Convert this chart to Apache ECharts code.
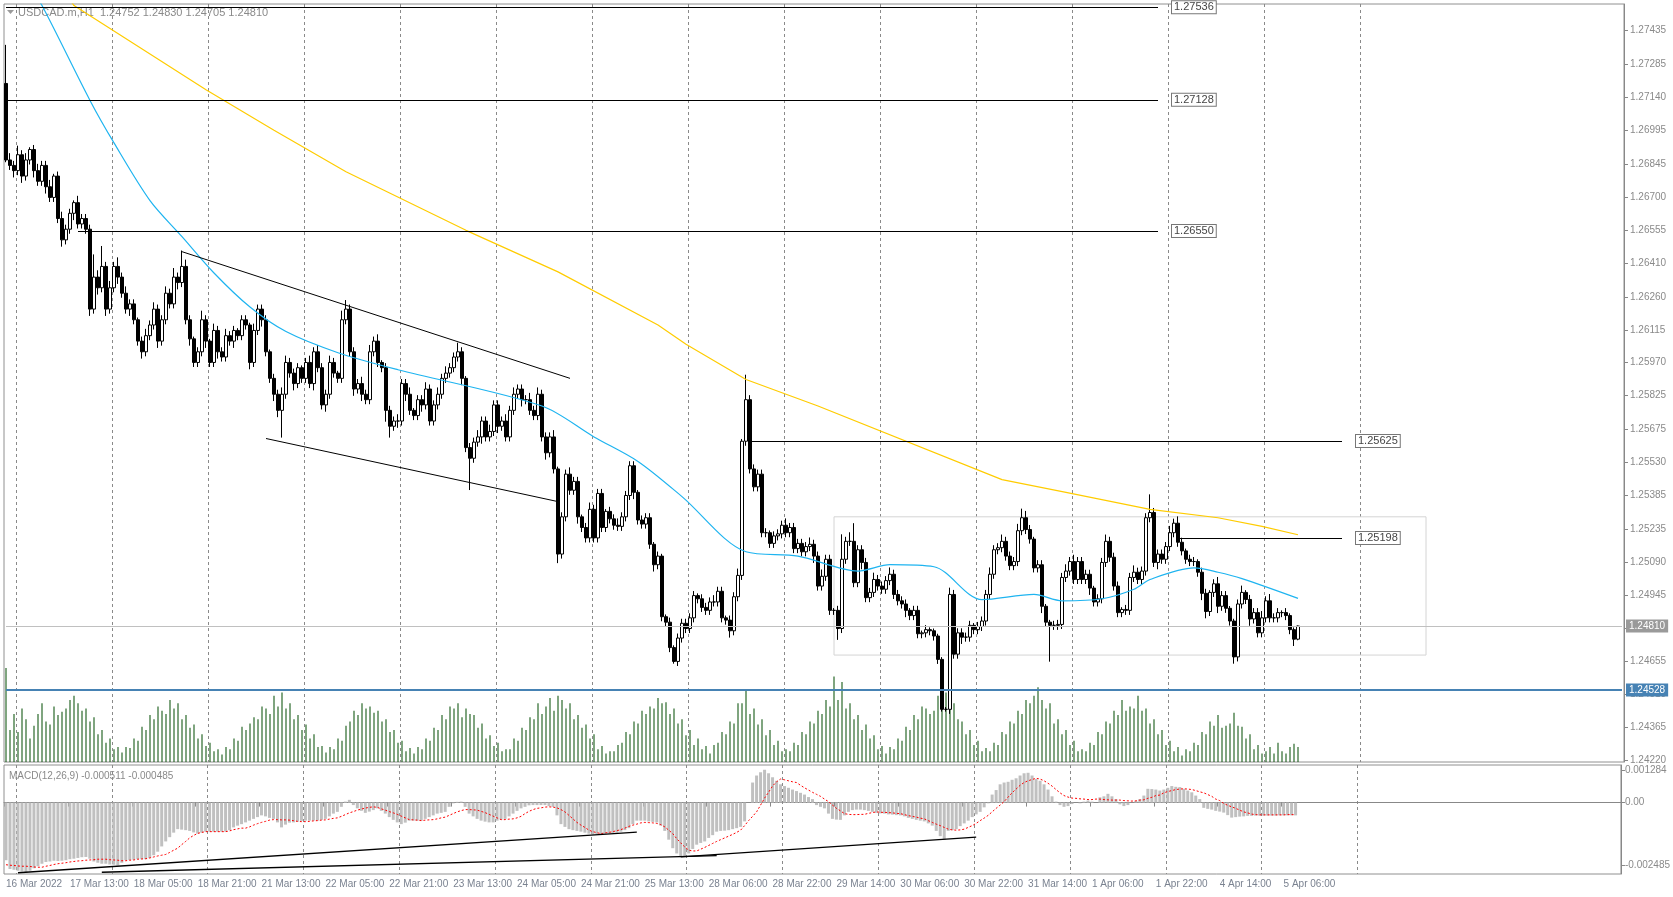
<!DOCTYPE html>
<html><head><meta charset="utf-8">
<script src="https://cdn.jsdelivr.net/npm/echarts@6/dist/echarts.min.js"></script>
<style>html,body{margin:0;padding:0;background:#fff}#c{width:1673px;height:897px}</style>
</head><body><div id="c"></div>
<script>
const tickLabels = ["16 Mar 2022","17 Mar 13:00","18 Mar 05:00","18 Mar 21:00","21 Mar 13:00","22 Mar 05:00","22 Mar 21:00","23 Mar 13:00","24 Mar 05:00","24 Mar 21:00","25 Mar 13:00","28 Mar 06:00","28 Mar 22:00","29 Mar 14:00","30 Mar 06:00","30 Mar 22:00","31 Mar 14:00","1 Apr 06:00","1 Apr 22:00","4 Apr 14:00","5 Apr 06:00"];
const priceTicks = [1.27435,1.27285,1.27140,1.26995,1.26845,1.26700,1.26555,1.26410,1.26260,1.26115,1.25970,1.25825,1.25675,1.25530,1.25385,1.25235,1.25090,1.24945,1.24800,1.24655,1.24510,1.24365,1.24220];
const firstOpen = 1.27200;
const closes = [
1.26863,1.26839,1.26816,1.26886,1.26792,1.26863,1.26909,1.26816,1.26769,1.26839,
1.26745,1.26698,1.26792,1.26605,1.26511,1.26558,1.26628,1.26675,1.26581,1.26605,
1.26558,1.26206,1.26347,1.26300,1.26394,1.26206,1.26300,1.26394,1.26347,1.26276,
1.26206,1.26229,1.26159,1.26065,1.26018,1.26089,1.26136,1.26206,1.26065,1.26159,
1.26276,1.26229,1.26347,1.26323,1.26394,1.26159,1.26075,1.25971,1.26018,1.26159,
1.26065,1.25971,1.26112,1.26018,1.25995,1.26089,1.26065,1.26112,1.26089,1.26159,
1.26136,1.25971,1.26112,1.26206,1.26159,1.26018,1.25901,1.25831,1.25760,1.25831,
1.25971,1.25924,1.25878,1.25948,1.25901,1.25971,1.25878,1.26018,1.25948,1.25784,
1.25831,1.25971,1.25924,1.25901,1.26159,1.26206,1.26018,1.25854,1.25878,1.25831,
1.25807,1.26018,1.26065,1.25971,1.25948,1.25760,1.25690,1.25713,1.25713,1.25878,
1.25831,1.25760,1.25737,1.25807,1.25784,1.25854,1.25713,1.25784,1.25831,1.25901,
1.25924,1.25948,1.25995,1.26018,1.25901,1.25596,1.25549,1.25620,1.25643,1.25713,
1.25643,1.25667,1.25784,1.25690,1.25713,1.25643,1.25760,1.25831,1.25854,1.25807,
1.25807,1.25760,1.25737,1.25831,1.25643,1.25573,1.25643,1.25502,1.25127,1.25291,
1.25479,1.25408,1.25447,1.25291,1.25244,1.25198,1.25324,1.25198,1.25394,1.25244,
1.25315,1.25282,1.25254,1.25249,1.25291,1.25385,1.25516,1.25399,1.25277,1.25259,
1.25287,1.25170,1.25080,1.25118,1.24851,1.24827,1.24715,1.24654,1.24757,1.24822,
1.24799,1.24846,1.24944,1.24930,1.24892,1.24879,1.24916,1.24916,1.24963,1.24846,
1.24836,1.24789,1.24939,1.25033,1.25624,1.25807,1.25502,1.25423,1.25479,1.25221,
1.25221,1.25174,1.25207,1.25216,1.25254,1.25221,1.25244,1.25151,1.25174,1.25137,
1.25160,1.25170,1.25118,1.24986,1.25029,1.25104,1.24879,1.24879,1.24799,1.25104,
1.25183,1.25183,1.25001,1.25146,1.25090,1.24935,1.24958,1.25015,1.24986,1.24972,
1.25010,1.25038,1.24949,1.24921,1.24907,1.24879,1.24856,1.24879,1.24776,1.24780,
1.24794,1.24789,1.24766,1.24663,1.24443,1.24443,1.24949,1.24686,1.24780,1.24761,
1.24761,1.24813,1.24794,1.24808,1.24832,1.24949,1.25038,1.25146,1.25155,1.25183,
1.25118,1.25076,1.25094,1.25230,1.25287,1.25235,1.25193,1.25066,1.25080,1.24897,
1.24827,1.24813,1.24813,1.24817,1.25024,1.25052,1.25094,1.25015,1.25094,1.25015,
1.25038,1.24977,1.24916,1.24930,1.25090,1.25183,1.25113,1.24986,1.24869,1.24883,
1.24879,1.25024,1.25047,1.25015,1.25052,1.25287,1.25310,1.25090,1.25127,1.25104,
1.25160,1.25221,1.25263,1.25179,1.25141,1.25104,1.25094,1.25094,1.25047,1.24954,
1.24874,1.24958,1.24996,1.24897,1.24944,1.24888,1.24832,1.24674,1.24907,1.24958,
1.24927,1.24841,1.24869,1.24780,1.24846,1.24921,1.24846,1.24846,1.24869,1.24869,
1.24856,1.24794,1.24752,1.24810];
// upper / lower wick lengths in pips (0.0001)
const wickUp = [
17,3,2,4,2,3,1,2,3,2, 2,3,1,2,3,2,2,1,3,2, 2,2,10,3,9,2,3,2,4,2, 3,2,2,1,2,3,2,3,2,2,
3,2,4,2,7,3,2,1,2,4, 2,1,3,2,2,3,2,2,1,2, 2,1,3,2,2,2,1,2,2,3, 3,2,2,2,1,2,3,2,3,2,
2,3,2,1,4,4,2,2,2,3, 2,3,2,3,1,2,2,2,3,2, 2,3,1,2,2,3,2,2,3,2, 3,2,2,4,2,1,2,2,3,2,
2,3,2,2,2,3,2,3,2,2, 2,3,2,3,2,2,2,3,1,2, 2,3,2,2,1,2,3,2,2,2, 1,2,2,3,2,2,2,2,1,2,
2,2,1,2,1,1,2,1,2,2, 2,2,2,1,2,2,2,3,2,2, 1,2,2,3,1,11,2,2,2,2, 2,1,2,2,2,3,2,2,2,2,
2,3,2,2,3,2,2,1,2,11, 2,4,8,2,2,2,2,3,2,2, 2,3,2,2,2,2,1,2,2,1, 2,1,1,1,1,1,3,2,2,2,
2,2,1,2,2,2,3,2,2,3, 2,2,2,3,4,3,2,1,2,2, 1,1,2,2,2,3,2,3,2,2, 2,2,1,2,2,3,2,2,2,1,
2,2,3,2,2,2,8,2,2,2, 2,3,2,3,2,1,2,2,1,2, 2,1,2,3,2,2,1,1,2,3, 1,2,2,2,3,2,3,2,2,1,
2,1,1,0.2];
const wickDn = [
1,2,3,2,3,2,2,3,2,2, 3,2,2,2,3,2,2,3,2,2, 2,3,2,3,2,3,2,2,3,2, 2,3,2,2,3,2,2,2,3,2,
2,2,2,3,2,2,3,2,2,2, 3,2,2,3,2,2,2,3,2,2, 2,3,2,2,3,2,2,3,3,12, 2,2,3,2,2,2,2,3,2,2,
3,2,2,2,2,2,2,3,2,3, 2,2,2,2,2,5,5,2,3,2, 3,2,2,2,3,2,2,2,2,2, 2,2,2,2,3,2,14,2,2,3,
2,2,2,3,2,2,2,2,2,3, 2,2,2,2,2,3,2,2,4,2, 2,2,2,3,2,2,2,2,2,2, 2,2,2,2,2,2,2,3,2,2,
2,2,3,2,2,2,2,1,2,2, 2,2,2,2,2,2,2,2,2,2, 2,3,2,2,2,2,2,2,2,2, 2,2,2,2,2,2,2,2,2,2,
2,2,3,2,2,2,2,2,5,2, 2,2,2,2,3,2,2,2,2,2, 2,2,2,2,2,3,2,2,2,2, 2,2,2,2,1,1,2,2,2,3,
2,2,2,2,2,2,2,2,2,2, 2,2,2,2,2,2,2,2,2,3, 2,16,2,2,2,2,2,2,2,2, 2,3,2,2,2,2,2,2,2,2,
2,2,2,2,2,2,2,2,3,2, 2,2,2,2,2,2,2,2,2,3, 3,2,2,3,2,2,2,3,2,2, 2,3,2,2,2,2,2,2,2,2,
2,2,3,0.47];
const volumes = [
88,30,45,28,50,40,22,34,45,55, 38,35,52,44,47,50,58,62,55,48, 50,38,42,26,30,18,22,12,14,9,
14,13,22,20,33,30,44,40,52,48, 45,58,50,55,40,44,32,35,22,26, 15,18,10,12,7,14,12,22,20,33,
30,36,42,40,52,50,45,62,52,65, 50,55,40,44,30,35,22,26,14,15, 9,14,12,22,20,34,38,48,44,55,
50,52,46,48,38,40,28,30,18,20, 10,13,8,14,12,22,20,32,30,44, 40,52,50,55,42,50,45,44,32,36,
22,25,15,18,10,12,12,22,20,32, 30,42,40,55,45,52,60,48,62,58, 50,55,40,44,32,35,22,26,12,15,
8,10,10,16,18,28,26,38,36,48, 45,52,50,60,55,56,45,50,36,40, 25,30,16,22,12,15,8,16,18,28,
26,38,36,55,55,68,45,50,35,40, 25,30,16,20,10,12,10,18,16,28, 26,38,36,48,45,58,52,80,58,75,
50,55,40,44,30,35,22,25,12,15, 8,14,12,22,20,33,30,44,40,52, 50,45,48,62,52,65,50,55,40,38,
26,30,16,20,10,13,10,18,16,28, 26,38,36,48,45,58,55,62,70,58, 50,55,36,40,26,30,16,20,10,12,
10,18,16,28,26,38,36,48,44,58, 48,52,50,62,48,50,36,40,26,30, 16,20,10,14,6,12,10,18,16,28,
26,38,34,44,32,34,36,46,34,33, 22,26,12,16,8,10,14,8,18,10, 8,14,17,14];
// MACD main (histogram) and signal, in points (0.00001)
const macdMain = [
-230,-265,-268,-272,-275,-279,-272,-262,-254,-244, -237,-235,-232,-233,-232,-230,-226,-224,-221,-218,
-217,-224,-235,-240,-244,-244,-247,-248,-251,-240, -230,-229,-228,-226,-226,-226,-221,-210,-196,-175,
-155,-138,-120,-106,-108,-110,-113,-119,-124,-120, -116,-116,-116,-116,-116,-116,-110,-99,-92,-86,
-79,-72,-65,-58,-51,-55,-61,-65,-79,-99, -88,-80,-79,-76,-73,-72,-72,-72,-72,-69,
-65,-55,-44,-37,-17,4,11,-10,-23,-33, -41,-36,-30,-23,-33,-44,-58,-69,-79,-86,
-80,-72,-72,-72,-72,-65,-58,-51,-44,-41, -37,-17,-3,3,4,-17,-44,-55,-65,-72,
-76,-79,-79,-72,-68,-65,-55,-44,-33,-23, -17,-11,-10,-10,-10,-10,-14,-17,-51,-86,
-97,-106,-110,-113,-116,-120,-124,-127,-127,-126, -124,-123,-121,-120,-116,-110,-102,-86,-72,-72,
-72,-75,-77,-79,-92,-113,-148,-182,-203,-217, -213,-203,-185,-168,-161,-155,-141,-130,-116,-113,
-112,-110,-106,-102,-97,-75,0,80,108,121, 131,117,101,87,73,66,59,52,46,39,
32,22,14,-10,-17,-23,-44,-65,-68,-69, -51,-37,-30,-28,-28,-30,-33,-37,-41,-43,
-44,-47,-48,-50,-51,-55,-61,-65,-69,-72, -75,-83,-92,-113,-134,-148,-113,-110,-106,-94,
-83,-72,-58,-47,-37,-19,-3,32,50,73, 80,83,91,97,108,117,119,108,94,87,
73,52,25,4,-10,-17,-14,-6,0,-3, 4,8,4,0,21,25,35,25,14,-7,
-14,-10,0,7,14,28,55,54,52,48, 52,59,66,63,62,55,48,41,28,14,
-21,-25,-28,-33,-36,-40,-50,-60,-58,-56, -55,-53,-53,-52,-52,-52,-52,-52,-52,-51,
-51,-51,-51,-51.1];
const macdSignal = [
-248,-250,-251,-253,-254,-254,-255,-257,-258,-258, -254,-251,-247,-244,-242,-240,-237,-235,-233,-232,
-230,-229,-228,-226,-226,-226,-228,-229,-230,-232, -232,-230,-229,-226,-225,-224,-221,-217,-213,-210,
-207,-199,-190,-182,-168,-155,-141,-131,-123,-119, -116,-116,-116,-116,-116,-116,-113,-108,-105,-102,
-102,-97,-90,-84,-79,-75,-70,-68,-68,-69, -69,-70,-72,-75,-76,-76,-75,-73,-72,-70,
-69,-66,-63,-61,-55,-48,-41,-36,-30,-26, -22,-19,-17,-19,-25,-30,-36,-41,-47,-54,
-61,-68,-69,-70,-72,-70,-69,-68,-65,-61, -58,-51,-44,-37,-32,-28,-28,-29,-30,-35,
-40,-47,-54,-61,-68,-68,-66,-65,-61,-55, -44,-35,-28,-23,-21,-18,-17,-18,-21,-28,
-37,-51,-65,-79,-90,-99,-110,-116,-120,-124, -121,-119,-116,-112,-108,-102,-95,-90,-86,-81,
-79,-80,-81,-83,-88,-97,-110,-124,-144,-161, -177,-190,-193,-193,-186,-179,-171,-163,-155,-148,
-141,-134,-127,-119,-110,-92,-72,-55,-37,-10, 18,41,66,83,94,91,87,83,80,69,
59,50,41,33,25,14,4,-10,-23,-33, -44,-47,-48,-48,-47,-47,-43,-40,-37,-39,
-39,-40,-41,-43,-44,-48,-52,-55,-58,-62, -65,-72,-79,-86,-92,-99,-106,-109,-110,-109,
-106,-99,-92,-83,-72,-62,-51,-37,-23,-10, 4,22,39,54,69,80,87,92,97,94,
87,77,66,52,39,28,22,18,17,15, 14,12,12,14,14,12,11,10,10,10,
8,7,6,7,10,11,17,21,28,30, 39,44,48,52,54,55,54,52,48,43,
39,32,25,14,8,-3,-11,-17,-23,-30, -37,-41,-46,-48,-49,-49,-49,-49,-49,-49,
-49,-48,-48,-48.5];
const macdTicks = [0.001284, 0, -0.002485];
const macdTickText = ["0.001284","0.00","-0.002485"];
// moving averages read at sampled bars
const blueIdx = [6,9,21,27,36,44,52,61,70,83,98,134,147,158,169,185,198,213,221,232,244,257,264,274,282,286,297,303,309,323];
const blueVal = [1.2762,1.27543,1.27125,1.26938,1.26684,1.26525,1.26365,1.26215,1.26107,1.26014,1.25939,1.25779,1.25643,1.25535,1.25380,1.25137,1.25118,1.25052,1.25080,1.25071,1.24926,1.24949,1.24921,1.24930,1.24972,1.25015,1.25066,1.25047,1.25019,1.24932];
const yellowIdx = [14,17,50,67,85,115,138,163,170,185,203,249,265,286,303,314,323];
const yellowVal = [1.2762,1.27543,1.27172,1.26994,1.26811,1.26553,1.26370,1.26136,1.26051,1.25896,1.25779,1.25455,1.25399,1.25324,1.25287,1.25249,1.25212];
const levels = [1.27536,1.27128,1.26550,1.25625,1.25198];
const bidPrice = 1.24810, bluePrice = 1.24528;

const N = 405;
const cats = Array.from({length:N},(_,i)=>String(i));
const candles = closes.map((c,i)=>{
  const o = i===0 ? firstOpen : closes[i-1];
  const hi = Math.max(o,c) + wickUp[i]*0.0001;
  const lo = Math.min(o,c) - wickDn[i]*0.0001;
  return [o,c,lo,hi];
});
function sparse(idx,val){const a=new Array(N).fill(null);idx.forEach((k,j)=>a[k]=val[j]);return a;}
const FONT='Liberation Sans';
const boxLabel = t => ({show:true,position:'end',formatter:t,distance:14,color:'#444',fontSize:11,fontFamily:FONT,
  backgroundColor:'#fff',borderColor:'#777',borderWidth:1,padding:[1,2,0,2]});
const seg = (a,b,p,t)=>[{coord:[a,p],label:t?boxLabel(t):{show:false}},{coord:[b,p]}];
const tagLabel = (t,bg)=>({show:true,position:'end',formatter:t,distance:4,color:'#fff',backgroundColor:bg,
  padding:[2,3,1,3],fontSize:10,fontFamily:FONT});

const chart = echarts.init(document.getElementById('c'),null,{renderer:'canvas'});
const xBase = (gi)=>({type:'category',gridIndex:gi,data:cats,boundaryGap:true,
  axisLine:{show:gi===2,lineStyle:{color:'#888'}},
  axisTick:{show:gi===2,interval:(i)=>i%16===0 && i/16<tickLabels.length,length:4,lineStyle:{color:'#888'}},
  axisLabel:{show:gi===2,interval:(i)=>i%16===0 && i/16<tickLabels.length,formatter:(v)=>tickLabels[Number(v)/16]||'',
    align:'left',color:'#7a8290',fontSize:10,fontFamily:FONT,margin:5},
  splitLine:{show:gi!==1,interval:(i)=>i>=3 && (i-3)%24===0 && i<340,lineStyle:{color:'#8a8a8a',type:[3,3],width:1}}
});
chart.setOption({
  animation:false,
  grid:[
    {left:4,right:49,top:4,bottom:135,show:true,borderColor:'#909090',borderWidth:1},
    {left:4,right:49,top:668,bottom:135},
    {left:4,right:49,top:765,bottom:23,show:true,borderColor:'#909090',borderWidth:1}
  ],
  xAxis:[xBase(0),xBase(1),xBase(2)],
  yAxis:[
    {type:'value',gridIndex:0,position:'right',min:1.24211,max:1.27550,splitLine:{show:false},
     axisLine:{show:true,lineStyle:{color:'#888'}},axisTick:{show:true,length:4,customValues:priceTicks,lineStyle:{color:'#888'}},
     axisLabel:{customValues:priceTicks,formatter:v=>v.toFixed(5),color:'#8a8a8a',fontSize:10,fontFamily:FONT,margin:6}},
    {type:'value',gridIndex:1,min:0,max:88,show:false,splitLine:{show:false}},
    {type:'value',gridIndex:2,position:'right',min:-0.00285,max:0.0015,splitLine:{show:false},
     axisLine:{show:true,lineStyle:{color:'#888'}},axisTick:{show:true,length:4,customValues:macdTicks,lineStyle:{color:'#888'}},
     axisLabel:{customValues:macdTicks,formatter:v=>{const k=macdTicks.findIndex(t=>Math.abs(t-v)<1e-7);return k>=0?macdTickText[k]:'';},
       color:'#8a8a8a',fontSize:10,fontFamily:FONT,margin:4}}
  ],
  series:[
    {type:'bar',xAxisIndex:1,yAxisIndex:1,data:volumes,barWidth:1,itemStyle:{color:'#004d00'},silent:true},
    {type:'line',xAxisIndex:0,yAxisIndex:0,data:sparse(yellowIdx,yellowVal),connectNulls:true,showSymbol:false,
     lineStyle:{color:'#FFCC00',width:1.2},clip:true,silent:true},
    {type:'line',xAxisIndex:0,yAxisIndex:0,data:sparse(blueIdx,blueVal),connectNulls:true,showSymbol:false,smooth:0.3,
     lineStyle:{color:'#1EB4F0',width:1.2},clip:true,silent:true},
    {type:'candlestick',xAxisIndex:0,yAxisIndex:0,data:candles,barWidth:3,
     itemStyle:{color:'#ffffff',color0:'#000000',borderColor:'#000000',borderColor0:'#000000',borderWidth:1},
     markArea:{silent:true,itemStyle:{color:'rgba(0,0,0,0)',borderColor:'#d4d4d4',borderWidth:1},
       data:[[{coord:[207,1.25291]},{coord:[355,1.24682]}]]},
     markLine:{silent:true,symbol:['none','none'],animation:false,
       lineStyle:{color:'#000',width:1,type:'solid'},
       data:[
         seg(0,288,levels[0],'1.27536'),
         seg(0,288,levels[1],'1.27128'),
         seg(18,288,levels[2],'1.26550'),
         seg(186,334,levels[3],'1.25625'),
         seg(293,334,levels[4],'1.25198'),
         [{coord:[44,1.26459],label:{show:false}},{coord:[141,1.25901]}],
         [{coord:[65,1.25636],label:{show:false}},{coord:[138,1.25358]}],
         [{coord:[0,bidPrice],lineStyle:{color:'#c0c0c0',width:1},label:tagLabel('1.24810','#9a9a9a')},{coord:[N-1,bidPrice]}],
         [{coord:[0,bluePrice],lineStyle:{color:'#4682B4',width:2},label:tagLabel('1.24528','#4682B4')},{coord:[N-1,bluePrice]}]
       ]}},
    {type:'bar',xAxisIndex:2,yAxisIndex:2,data:macdMain.map(v=>v*0.00001),barWidth:3,itemStyle:{color:'#c0c0c0'},silent:true,
     markLine:{silent:true,symbol:['none','none'],lineStyle:{color:'#000',width:1.3,type:'solid'},label:{show:false},
       data:[
         [{coord:[3,-0.00280]},{coord:[158,-0.00118]}],
         [{coord:[24,-0.00278]},{coord:[178,-0.00212]}],
         [{coord:[169,-0.00217]},{coord:[243,-0.00138]}]
       ]}},
    {type:'line',xAxisIndex:2,yAxisIndex:2,data:macdSignal.map(v=>v*0.00001),showSymbol:false,
     lineStyle:{color:'#ff0000',width:1,type:[2,2]},silent:true}
  ],
  graphic:[
    {type:'polygon',shape:{points:[[7,10],[14,10],[10.5,14]]},style:{fill:'#9a9a9a'}},
    {type:'text',left:18,top:7,style:{text:'USDCAD.m,H1  1.24752 1.24830 1.24705 1.24810',fill:'#8a8a8a',font:'11px "Liberation Sans"'}},
    {type:'text',left:9,top:771,style:{text:'MACD(12,26,9) -0.000511 -0.000485',fill:'#8a8a8a',font:'10px "Liberation Sans"'}}
  ]
});
</script></body></html>
